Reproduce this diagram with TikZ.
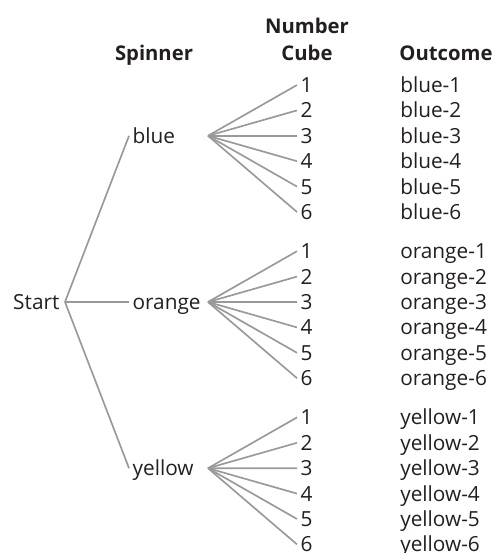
\documentclass[tikz,border=0pt]{standalone}
\usepackage{fontspec}
\setmainfont{Open Sans}
\definecolor{ink}{HTML}{231F20}
\definecolor{branch}{HTML}{999999}
\begin{document}
\begin{tikzpicture}[x=0.75pt,y=-0.75pt,
  every node/.style={text=ink,font=\fontsize{15.6}{18}\selectfont},
  lbl/.style={inner ysep=0pt,inner xsep=0pt,text height=11.1pt,text depth=0pt,anchor=west},
  head/.style={font=\fontsize{15.2}{18}\selectfont\bfseries,inner sep=0pt,anchor=base},
  edge/.style={draw=branch,line width=1.25pt}]
\useasboundingbox (0,0) rectangle (495,553);

% column headings
\node[head] (hspin) at (154,60) {Spinner};
\node[head] (hnum)  at (307,33) {Number};
\node[head] (hcube) at (307,60) {Cube};
\node[head] (hout)  at (446,60) {Outcome};

% root
\node[lbl,anchor=east,inner xsep=4pt] (start) at (65,302) {Start};

% one spinner colour per group: name, label, top row
\foreach \c/\txt/\top in {b/blue/85, o/orange/251.2, y/yellow/417.4}{
  \pgfmathsetmacro{\mid}{\top+50.8}
  \node[lbl,inner xsep=2.5pt] (\c) at (129,\mid) {\txt};
  \draw[edge] (start.east) -- (\c.west);
  \coordinate (\c fan) at (208,\mid);
  \foreach \k in {1,...,6}{
    \pgfmathsetmacro{\yy}{\top+(\k-1)*25.4}
    \node[lbl,inner xsep=2.6pt] (\c\k) at (297,\yy) {\k};
    \node[lbl] (\c out\k) at (400,\yy) {\txt-\k};
    \draw[edge] (\c fan) -- (\c\k.west);
  }
}
\end{tikzpicture}
\end{document}
